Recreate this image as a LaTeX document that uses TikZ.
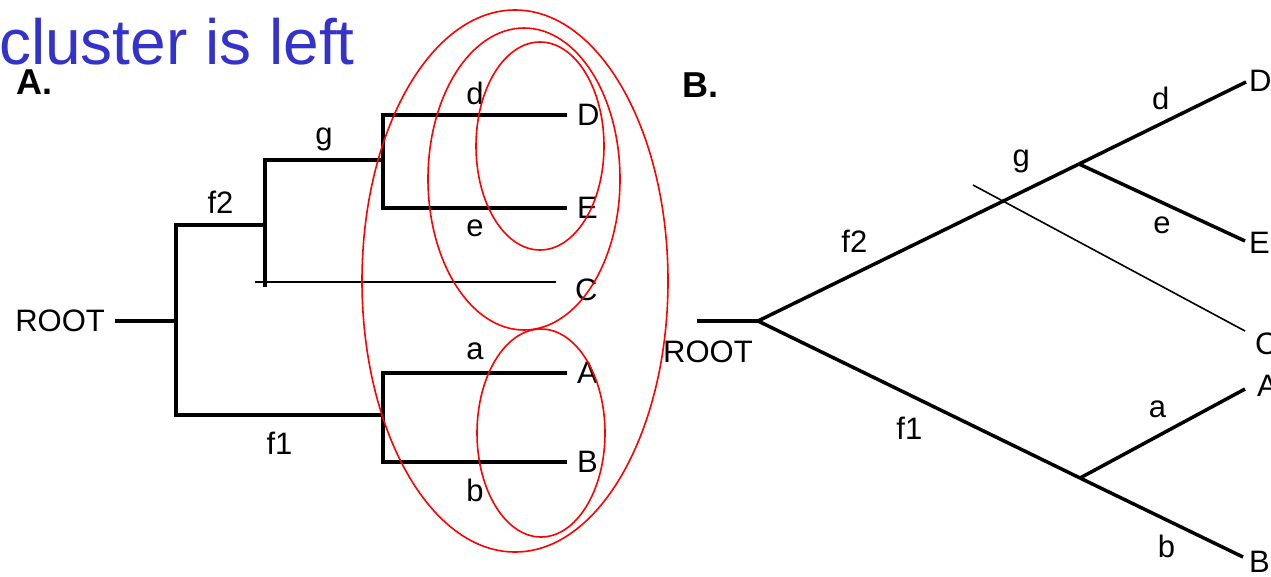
\documentclass[tikz,border=0pt]{standalone}
\usepackage{fontspec}
\setmainfont{Liberation Sans}
\usepackage{xcolor}
\usetikzlibrary{positioning}
\definecolor{titleblue}{RGB}{51,51,204}

\begin{document}
\begin{tikzpicture}[x=1pt, y=-1pt,
  every node/.style={font=\fontsize{31}{36}\selectfont},
  branch/.style={line width=3.5pt},
  cut/.style={line width=1.6pt},
  ring/.style={draw=red, line width=1.6pt},
  leaf/.style={anchor=west, inner sep=0}]
\useasboundingbox (0,0) rectangle (1271,576);

\node (title) [anchor=base west, inner sep=0, text=titleblue, font=\fontsize{64}{70}\selectfont] at (-1,64) {cluster is left};

% A. elbow tree
\node (labA) [anchor=base west, inner sep=0, font=\bfseries\fontsize{36}{40}\selectfont] at (16,94) {A.};
\coordinate (rootA) at (115,321);
\coordinate (jRootA) at (176,321);
\coordinate (jF2A) at (265,225);
\coordinate (cStubA) at (265,287);
\coordinate (jGA) at (383,160);
\coordinate (jF1A) at (383,415);
\coordinate (dEndA) at (567,115);
\coordinate (eEndA) at (567,208);
\coordinate (aEndA) at (567,373);
\coordinate (bEndA) at (567,462);
\coordinate (cStartA) at (255,282);
\coordinate (cEndA) at (556,282);

\node (rootLabA) [left=10pt of rootA, inner sep=0] {ROOT};
\node (D) [right=10pt of dEndA, inner sep=0] {D};
\node (E) [right=10pt of eEndA, inner sep=0] {E};
\node (C) [leaf] at (575,290) {C};
\node (A) [right=10pt of aEndA, inner sep=0] {A};
\node (B) [right=10pt of bEndA, inner sep=0] {B};

\draw[branch] (rootA) -- (jRootA);
\draw[branch] (jRootA) |- node[pos=.75, above=6pt]{f2} (jF2A);
\draw[branch] (jRootA) |- node[pos=.75, below=12pt]{f1} (jF1A);
\draw[branch] (jGA) -| node[pos=.25, above=4pt]{g} (cStubA);
\draw[branch] (jGA) |- node[pos=.75, above=5pt]{d} (dEndA);
\draw[branch] (jGA) |- node[pos=.75, below=7pt]{e} (eEndA);
\draw[branch] (jF1A) |- node[pos=.75, above=8pt]{a} (aEndA);
\draw[branch] (jF1A) |- node[pos=.75, below=12pt]{b} (bEndA);
\draw[cut] (cStartA) -- (cEndA);

% clusters
\draw[ring] (515,281) ellipse [x radius=153pt, y radius=271pt];
\draw[ring] (524,179) ellipse [x radius=96pt, y radius=151pt];
\draw[ring] (540,146) ellipse [x radius=64pt, y radius=104pt];
\draw[ring] (541,433) ellipse [x radius=64pt, y radius=104pt];

% B. slanted tree
\node (labB) [anchor=base west, inner sep=0, font=\bfseries\fontsize{36}{40}\selectfont] at (682,97) {B.};
\coordinate (rootB) at (697,321);
\coordinate (jRootB) at (758,321);
\coordinate (jGB) at (1079,164);
\coordinate (jF1B) at (1080,478);
\coordinate (dEndB) at (1246,82);
\coordinate (eEndB) at (1245,241);
\coordinate (aEndB) at (1245,389);
\coordinate (bEndB) at (1243,557);
\coordinate (cStartB) at (973,185);
\coordinate (cEndB) at (1245,331);

\node (rootLabB) [anchor=north west, inner sep=0] at (663,341) {ROOT};
\node (DB) [leaf] at (1249,81) {D};
\node (EB) [leaf] at (1249,243) {E};
\node (CB) [leaf] at (1255,344) {C};
\node (AB) [leaf] at (1257,386) {A};
\node (BB) [leaf] at (1249,562) {B};

\draw[branch] (rootB) -- (jRootB);
\draw[branch] (jRootB) -- node[pos=.3, above=16pt]{f2} node[pos=.82, above=14pt]{g} (jGB);
\draw[branch] (jGB) -- node[pos=.49, above=9pt]{d} (dEndB);
\draw[branch] (jGB) -- node[pos=.5, below=9pt]{e} (eEndB);
\draw[branch] (jRootB) -- node[pos=.47, below=17pt]{f1} (jF1B);
\draw[branch] (jF1B) -- node[pos=.47, above=13pt]{a} (aEndB);
\draw[branch] (jF1B) -- node[pos=.53, below=10pt]{b} (bEndB);
\draw[cut] (cStartB) -- (cEndB);
\end{tikzpicture}
\end{document}
